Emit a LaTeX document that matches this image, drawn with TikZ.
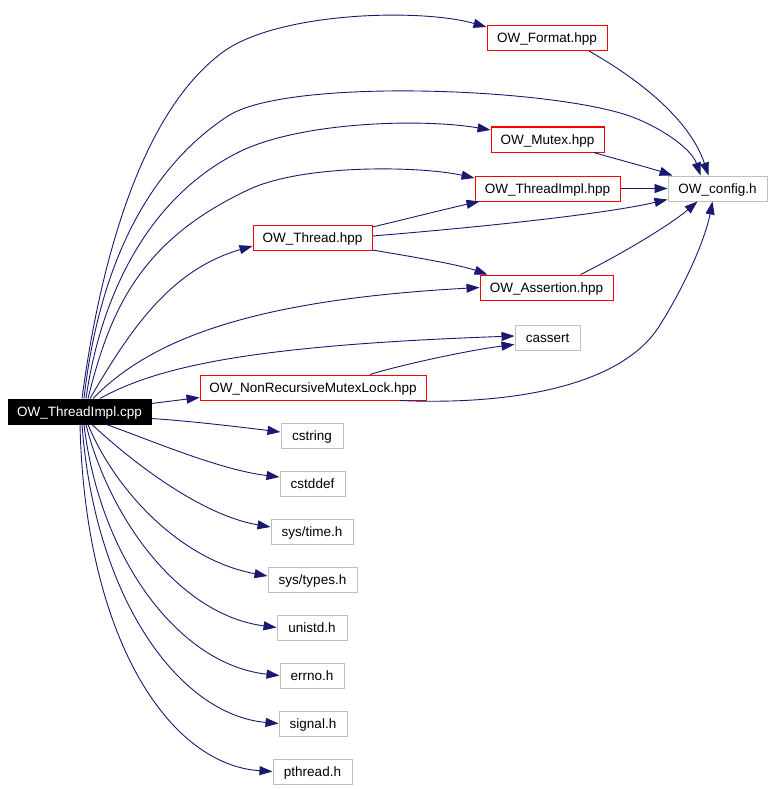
\documentclass[tikz,border=0pt]{standalone}
\usepackage{fontspec}
\setmainfont{Liberation Sans}
\usetikzlibrary{arrows.meta}
\definecolor{edgeblue}{HTML}{191970}
\definecolor{boxred}{HTML}{FF0000}
\definecolor{boxgray}{HTML}{BFBFBF}
\begin{document}
\begin{tikzpicture}[x=1pt,y=-1pt,
	file/.style={draw,line width=1pt,minimum height=25pt,inner sep=0pt,text height=9pt,text depth=0pt,font=\fontsize{13.5}{15}\selectfont},
	redfile/.style={file,draw=boxred},
	sysfile/.style={file,draw=boxgray},
	edge/.style={draw=edgeblue,line width=0.9pt,-{Triangle[length=13pt,width=9pt]}}]
	\useasboundingbox(0,0)rectangle(773,789);
	\node[file,fill=black,text=white,minimum width=143pt](cpp)at(79.5,411.5){OW\_ThreadImpl.cpp};
	\node[redfile,minimum width=120pt](fmt)at(547,38){OW\_Format.hpp};
	\node[redfile,minimum width=113pt](mtx)at(547.5,139.5){OW\_Mutex.hpp};
	\node[redfile,minimum width=145pt](tih)at(547.5,188.5){OW\_ThreadImpl.hpp};
	\node[sysfile,minimum width=99pt](cfg)at(717.5,188.5){OW\_config.h};
	\node[redfile,minimum width=119pt](thr)at(312.5,238){OW\_Thread.hpp};
	\node[redfile,minimum width=133pt](asr)at(546.5,287.5){OW\_Assertion.hpp};
	\node[sysfile,minimum width=65pt](cas)at(547.5,337.5){cassert};
	\node[redfile,minimum width=226pt](nrm)at(313,387.5){OW\_NonRecursiveMutexLock.hpp};
	\node[sysfile,minimum width=62pt](cstr)at(312,435.5){cstring};
	\node[sysfile,minimum width=65pt](cdef)at(312.5,483.5){cstddef};
	\node[sysfile,minimum width=82pt](stime)at(312,531.5){sys/time.h};
	\node[sysfile,minimum width=89pt](stypes)at(312.5,579.5){sys/types.h};
	\node[sysfile,minimum width=70pt](unistd)at(312,627.5){unistd.h};
	\node[sysfile,minimum width=64pt](errno)at(312,675.5){errno.h};
	\node[sysfile,minimum width=68pt](signal)at(313,723.5){signal.h};
	\node[sysfile,minimum width=79pt](pthr)at(312.5,771.5){pthread.h};
	\draw[edge]([xshift=2.5pt]cpp.north)..controls(95,300)and(130,120)..(223,52)..controls(278,12)and(420,8)..([yshift=11pt]fmt.west);
	\draw[edge]([xshift=4.5pt]cpp.north)..controls(95,300)and(130,180)..(228,116)..controls(288,77)and(560,88)..(635,118)..controls(665,130)and(692,150)..([xshift=-17pt]cfg.north);
	\draw[edge]([xshift=6.5pt]cpp.north)..controls(100,300)and(145,200)..(237,153)..controls(297,122)and(420,118)..([yshift=9.5pt]mtx.west);
	\draw[edge]([xshift=8.5pt]cpp.north)..controls(110,310)and(140,240)..(250,189)..controls(305,164)and(420,166)..([yshift=10.5pt]tih.west);
	\draw[edge]([xshift=10.5pt]cpp.north)..controls(130,330)and(170,270)..([yshift=-8pt]thr.west);
	\draw[edge]([xshift=13.5pt]cpp.north)..controls(150,340)and(250,300)..(asr.west);
	\draw[edge]([xshift=20.5pt]cpp.north)..controls(160,365)and(260,345)..([yshift=1.5pt]cas.west);
	\draw[edge]([yshift=8pt]cpp.east)--([yshift=-10pt]nrm.west);
	\draw[edge]([yshift=-7pt]cpp.east)..controls(190,421)and(240,427)..([yshift=3.5pt]cstr.west);
	\draw[edge]([xshift=27pt]cpp.south)..controls(150,440)and(220,470)..([yshift=6.5pt]cdef.west);
	\draw[edge]([xshift=12.5pt]cpp.south)..controls(130,460)and(200,515)..([yshift=4.5pt]stime.west);
	\draw[edge]([xshift=8.5pt]cpp.south)..controls(115,490)and(180,560)..([yshift=3.5pt]stypes.west);
	\draw[edge]([xshift=6.5pt]cpp.south)..controls(110,520)and(180,615)..(unistd.west);
	\draw[edge]([xshift=4.5pt]cpp.south)..controls(100,560)and(180,665)..(errno.west);
	\draw[edge]([xshift=2.5pt]cpp.south)..controls(95,600)and(180,715)..(signal.west);
	\draw[edge]([xshift=0.5pt]cpp.south)..controls(85,640)and(170,765)..(pthr.west);
	\draw[edge]([xshift=42pt]fmt.south)..controls(640,80)and(690,120)..([xshift=-9pt]cfg.north);
	\draw[edge]([xshift=46pt]mtx.south)..controls(620,160)and(650,168)..([xshift=5pt]cfg.north west);
	\draw[edge](tih.east)--(cfg.west);
	\draw[edge]([yshift=11pt]thr.east)..controls(410,218)and(450,208)..([xshift=5pt]tih.south west);
	\draw[edge]([yshift=2pt]thr.east)..controls(470,228)and(600,215)..([yshift=2pt]cfg.south west);
	\draw[edge]([yshift=-12pt]thr.east)..controls(420,258)and(460,265)..([xshift=8pt]asr.north west);
	\draw[edge]([xshift=34pt]asr.north)..controls(620,255)and(670,225)..([xshift=-20pt]cfg.south);
	\draw[edge]([xshift=57pt]nrm.north)..controls(400,365)and(470,350)..([yshift=-7pt]cas.west);
	\draw[edge]([xshift=87pt]nrm.south)..controls(500,405)and(620,390)..(660,325)..controls(685,285)and(705,240)..([xshift=-5pt]cfg.south);
\end{tikzpicture}
\end{document}
